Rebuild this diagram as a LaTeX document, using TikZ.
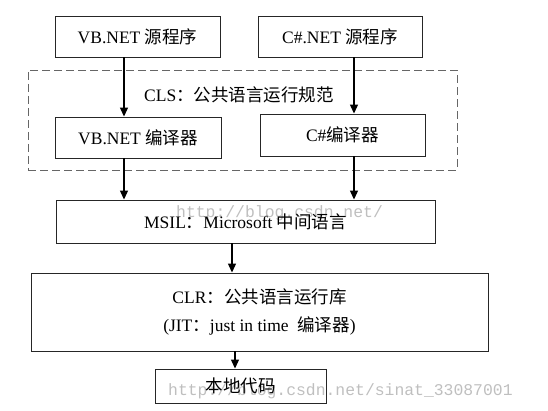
\documentclass[tikz,border=0pt]{standalone}
\usepackage{fontspec}
\setmainfont{Liberation Serif}
\newfontfamily\cjk{Noto Sans CJK SC}
\newfontfamily\wmfont{Liberation Mono}
\usetikzlibrary{arrows.meta}
\begin{document}
\begin{tikzpicture}[x=1pt,y=-1pt,
  box/.style={draw=black!85,line width=0.9pt,inner sep=0pt,align=center,
    font=\fontsize{17.5}{28}\selectfont},
  arr/.style={line width=1.2pt,-{Triangle[length=9pt,width=8pt]}},
  wm/.style={text=black!25,font=\wmfont\fontsize{16.4}{18}\selectfont,inner sep=0pt},
  lbl/.style={inner sep=0pt,font=\fontsize{17.5}{28}\selectfont}]
\useasboundingbox (0,0) rectangle (548,411);
% watermarks
\node[wm,anchor=west] (wm1) at (176,213) {http://blog.csdn.net/};
\node[wm,anchor=west] (wm2) at (168,391) {http://blog.csdn.net/sinat\_33087001};
% boxes
\node[box,minimum width=165pt,minimum height=41pt] (vbsrc) at (137.5,36.5) {VB.NET {\cjk 源程序}};
\node[box,minimum width=164pt,minimum height=41pt] (cssrc) at (340,36.5) {C\#.NET {\cjk 源程序}};
\node[draw=black!60,line width=0.9pt,dash pattern=on 8pt off 4pt,inner sep=0pt,
  minimum width=429pt,minimum height=100pt] (cls) at (242.5,120) {};
\node[lbl] (clslbl) at (239,95) {CLS{\cjk ：公共语言运行规范}};
\node[box,minimum width=166pt,minimum height=41pt] (vbcomp) at (138,137.5) {VB.NET {\cjk 编译器}};
\node[box,minimum width=165pt,minimum height=42pt] (cscomp) at (342.5,135) {C\#{\cjk 编译器}};
\node[box,minimum width=379pt,minimum height=43pt] (msil) at (245.5,221.5) {MSIL{\cjk ：}Microsoft {\cjk 中间语言}};
\node[box,minimum width=457pt,minimum height=78pt] (clr) at (259.5,312) {CLR{\cjk ：公共语言运行库}\\(JIT{\cjk ：}just in time\ \ {\cjk 编译器})};
\node[box,minimum width=171pt,minimum height=34pt] (native) at (240.5,386) {{\cjk 本地代码}};
% arrows
\coordinate (xl) at (124,0);
\coordinate (xr) at (354,0);
\coordinate (xm) at (232,0);
\coordinate (xn) at (235,0);
\draw[arr] (vbsrc.south -| xl) -- (vbcomp.north -| xl);
\draw[arr] (cssrc.south -| xr) -- (cscomp.north -| xr);
\draw[arr] (vbcomp.south -| xl) -- (msil.north -| xl);
\draw[arr] (cscomp.south -| xr) -- (msil.north -| xr);
\draw[arr] (msil.south -| xm) -- (clr.north -| xm);
\draw[arr] (clr.south -| xn) -- (native.north -| xn);
\end{tikzpicture}
\end{document}
